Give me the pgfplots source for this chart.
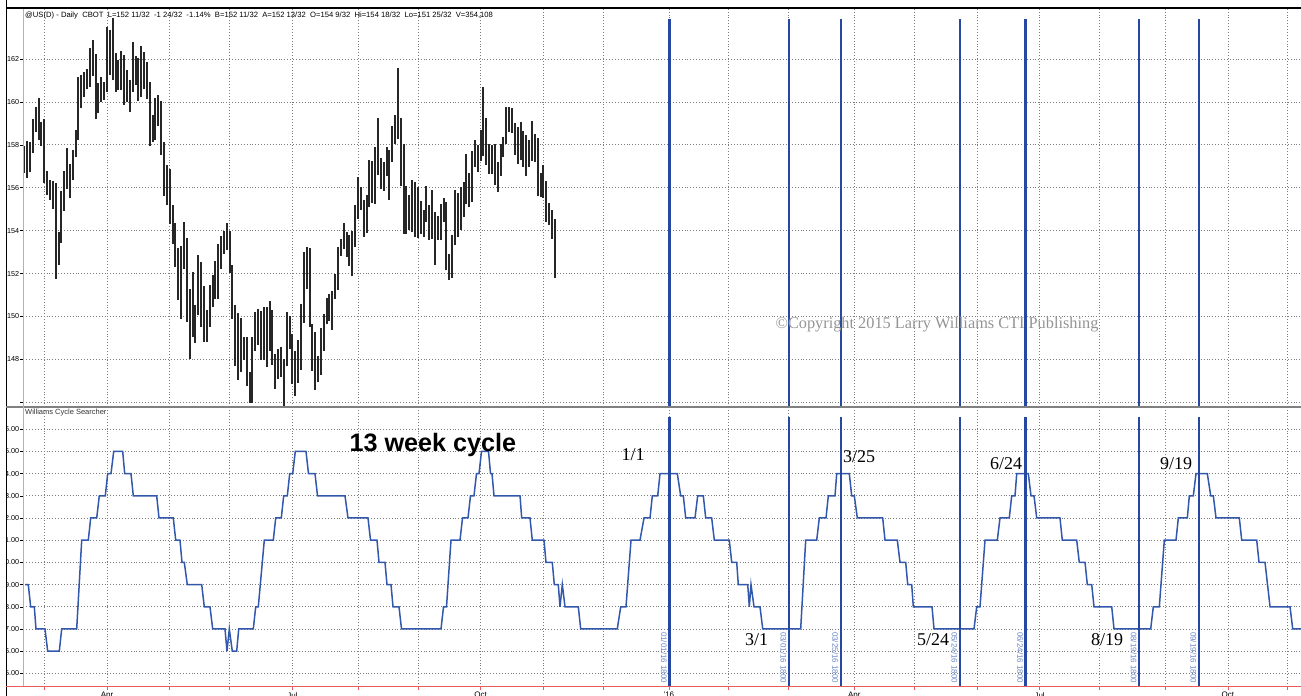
\documentclass[border=0pt]{standalone}
\usepackage{pgfplots}
\pgfplotsset{compat=1.18}
\usepackage{pgfplotstable}
\usepackage{fontspec}
\setmainfont{Liberation Sans}
\newfontfamily\serifA{Liberation Serif}

\definecolor{cyc}{RGB}{50,88,172}
\definecolor{vline}{RGB}{38,72,162}
\definecolor{vtext}{RGB}{105,135,200}
\definecolor{redax}{RGB}{232,92,92}
\definecolor{pinkax}{RGB}{245,150,150}
\definecolor{gridc}{RGB}{125,125,125}

% daily bars: bar number, high, low
\pgfplotstableread{
i h l
1 157.94 156.69
2 158.17 156.46
3 158.11 156.71
4 159.19 157.60
5 159.77 158.61
6 160.16 158.22
7 159.07 157.94
8 159.20 156.23
9 156.79 155.65
10 156.38 155.45
11 156.32 155.03
12 156.23 151.76
13 153.94 152.38
14 155.84 153.44
15 156.77 154.92
16 157.83 155.92
17 157.10 155.50
18 157.75 156.38
19 158.69 157.44
20 161.18 158.22
21 161.25 159.70
22 161.41 160.21
23 161.52 160.58
24 162.50 160.68
25 162.90 161.21
26 162.23 159.18
27 160.86 159.46
28 161.18 160.01
29 160.94 160.09
30 163.50 160.47
31 163.35 161.25
32 163.90 161.00
33 162.26 160.47
34 161.95 160.55
35 162.39 160.55
36 162.19 159.85
37 161.49 160.00
38 161.02 159.54
39 162.80 160.47
40 162.14 160.79
41 162.03 160.05
42 162.60 160.24
43 162.34 160.58
44 161.88 160.12
45 160.94 157.94
46 159.39 158.14
47 160.16 158.22
48 160.32 158.87
49 160.05 157.52
50 158.14 155.62
51 157.05 155.18
52 156.85 154.33
53 155.18 153.36
54 154.36 152.30
55 153.21 150.78
56 153.27 149.89
57 154.41 152.23
58 153.67 149.74
59 151.29 148.03
60 152.07 149.04
61 150.55 148.76
62 152.85 150.05
63 152.54 149.50
64 151.40 148.80
65 150.31 148.80
66 151.45 149.50
67 151.92 150.44
68 152.60 150.80
69 153.36 150.83
70 153.75 152.23
71 153.99 152.93
72 154.36 153.11
73 153.99 152.03
74 152.42 149.89
75 150.55 147.71
76 150.16 147.04
77 149.92 147.39
78 149.04 147.95
79 149.04 146.78
80 147.39 145.97
81 149.04 145.97
82 150.20 148.41
83 150.36 148.65
84 150.25 147.98
85 150.44 147.98
86 150.44 147.63
87 150.72 148.41
88 150.31 147.76
89 148.25 146.62
90 148.49 147.07
91 148.56 147.19
92 148.03 145.77
93 150.20 147.67
94 150.00 148.49
95 149.19 146.86
96 148.41 146.27
97 148.90 146.90
98 150.59 147.51
99 153.00 149.69
100 153.24 151.29
101 153.21 149.53
102 149.63 147.45
103 149.27 146.58
104 148.18 146.93
105 149.47 147.29
106 150.13 148.41
107 150.88 149.63
108 151.03 149.81
109 151.19 149.38
110 152.00 150.83
111 153.24 151.22
112 153.63 152.80
113 154.36 153.16
114 153.94 152.77
115 153.79 152.34
116 153.99 151.87
117 155.18 153.24
118 156.51 154.56
119 156.04 154.95
120 155.42 153.71
121 155.65 153.89
122 157.29 155.11
123 157.26 155.29
124 157.91 155.26
125 159.23 156.58
126 157.37 155.92
127 157.21 155.85
128 157.88 156.54
129 157.75 155.42
130 158.87 157.21
131 159.39 158.03
132 161.56 158.25
133 159.23 156.07
134 158.06 153.86
135 156.07 153.86
136 155.65 154.02
137 156.35 153.94
138 156.27 153.71
139 156.04 153.67
140 155.39 153.86
141 154.95 153.71
142 156.07 154.41
143 155.18 153.58
144 155.91 153.63
145 154.88 152.38
146 154.67 153.55
147 155.23 153.55
148 155.54 154.41
149 155.34 152.15
150 152.93 151.71
151 153.79 151.81
152 155.91 153.32
153 155.76 153.71
154 156.04 154.02
155 156.27 154.64
156 157.57 155.23
157 156.70 155.08
158 157.72 155.34
159 158.22 156.97
160 157.99 156.74
161 158.69 157.26
162 160.68 157.47
163 159.23 157.05
164 158.06 156.66
165 157.99 156.66
166 158.06 156.12
167 157.21 155.82
168 158.06 156.54
169 158.37 157.44
170 159.77 158.06
171 159.77 158.61
172 159.70 158.53
173 159.00 157.52
174 158.81 157.10
175 159.07 157.28
176 158.65 156.97
177 158.45 156.54
178 158.22 156.97
179 159.11 157.25
180 158.50 157.21
181 158.30 155.60
182 156.70 155.57
183 157.05 155.54
184 156.32 154.41
185 155.29 154.25
186 154.95 153.63
187 154.56 151.78
}\prices

\pgfplotsset{
  panel/.style={
    scale only axis, width=1277.7pt,
    xmin=0.65, xmax=448.65,
    xtick={8,30,52,73,95,118,139,161,183,204,227,248,269,292,313,335,357,378,401,423,444},
    axis line style={draw=none},
    grid=major,
    major grid style={gridc, line width=0.7pt, dash pattern=on 0.9pt off 2pt},
    tick align=outside, major tick length=3pt,
    ytick pos=left, xtick pos=bottom,
    ytick style={black, line width=0.5pt},
    tick label style={font=\fontsize{7.2}{8}\selectfont, inner sep=1pt},
    /pgf/number format/assume math mode=true,
  }
}

\begin{document}
\begin{tikzpicture}

% price panel
\begin{axis}[panel, name=top, anchor=south west, at={(23.3pt,289pt)}, height=398pt,
    ymin=145.78, ymax=164.33,
    ytick={146,148,...,162},
    yticklabels={,148,150,152,154,156,158,160,162},
    xticklabel=\empty, xtick style={draw=none}]
  \addplot[draw=none, mark=none,
    error bars/.cd, y dir=plus, y explicit, error mark=none,
    error bar style={draw=black!85, line width=2pt}]
    table[x=i, y=l, y error expr=\thisrow{h}-\thisrow{l}] {\prices};
  \addplot[vline, line width=2.4pt, unbounded coords=jump] coordinates {
    (227.2,145) (227.2,163.86) (nan,nan)
    (269.1,145) (269.1,163.86) (nan,nan)
    (287.3,145) (287.3,163.86) (nan,nan)
    (329.1,145) (329.1,163.86) (nan,nan)
    (352.1,145) (352.1,163.86) (nan,nan)
    (391.9,145) (391.9,163.86) (nan,nan)
    (412.9,145) (412.9,163.86)
  };
\end{axis}

% cycle panel
\begin{axis}[panel, name=bot, anchor=south west, at={(23.3pt,9.3pt)}, height=279.7pt,
    ymin=4.40, ymax=17.0,
    ytick={5,6,...,16},
    yticklabels={5.00,6.00,7.00,8.00,9.00,10.00,11.00,12.00,13.00,14.00,15.00,16.00},
    xticklabels={,Apr,,,Jul,,,Oct,,,'16,,,Apr,,,Jul,,,Oct,},
    xtick style={redax, line width=0.6pt},
    xticklabel style={font=\fontsize{8}{9}\selectfont, inner sep=0pt, yshift=-2.5pt}]
  \addplot[cyc, line width=1.5pt] coordinates {
    (1.25,9) (2.40,9) (3.24,8) (4.51,8) (5.10,7) (8.26,7) (9.20,6) (13.27,6)
    (14.11,7) (19.37,7) (21.13,11) (23.44,11) (24.28,12) (26.39,12) (27.30,13)
    (29.40,13) (30.24,14) (31.40,14) (32.35,15) (35.50,15) (36.20,14) (38.41,14)
    (39.22,13) (47.42,13) (48.23,12) (53.24,12) (54.09,11) (55.59,11) (56.29,10)
    (57.10,10) (58.15,9) (63.20,9) (64.11,8) (66.11,8) (67.06,7) (71.37,7)
    (72.07,6) (72.88,7) (73.93,6) (75.47,6) (76.18,7) (81.29,7) (82.14,8)
    (83.05,8) (85.15,11) (88.31,11) (89.15,12) (91.11,12) (91.95,13) (93.22,13)
    (94.06,14) (95.11,14) (96.02,15) (99.77,15) (100.65,14) (102.93,14)
    (103.81,13) (113.45,13) (114.50,12) (121.51,12) (122.39,11) (124.67,11)
    (125.37,10) (127.47,10) (128.17,9) (129.58,9) (130.28,8) (132.38,8)
    (133.26,7) (147.11,7) (147.99,8) (149.04,8) (150.61,11) (153.77,11)
    (154.65,12) (156.57,12) (157.45,13) (158.68,13) (159.55,14) (160.43,14)
    (161.31,15) (163.77,15) (164.47,14) (164.99,14) (165.69,13) (174.81,13)
    (175.40,12) (178.31,12) (179.12,11) (183.22,11) (183.92,10) (186.13,10)
    (186.83,9) (188.23,9) (188.83,8) (189.64,9) (190.59,8) (195.25,8)
    (196.09,7) (208.92,7) (210.12,8) (211.97,8) (213.73,11) (216.88,11)
    (218.29,12) (220.39,12) (221.20,13) (223.09,13) (223.90,14) (229.96,14)
    (231.15,13) (232.07,13) (232.91,12) (236.17,12) (237.11,13) (239.08,13)
    (239.92,12) (242.02,12) (242.94,11) (248.19,11) (249.04,10) (250.79,10)
    (251.35,9) (254.65,9) (255.21,8) (255.80,9) (256.86,8) (258.96,8)
    (259.91,7) (273.22,7) (274.98,11) (278.84,11) (279.75,12) (282.10,12)
    (282.91,13) (285.26,13) (285.85,14) (290.27,14) (291.11,13) (292.02,13)
    (293.08,12) (301.98,12) (302.79,11) (307.10,11) (308.05,10) (310.05,10)
    (310.75,9) (312.15,9) (312.71,8) (319.27,8) (319.97,7) (333.99,7)
    (334.94,8) (336.10,8) (337.85,11) (342.16,11) (343.11,12) (346.37,12)
    (347.21,13) (348.37,13) (348.97,14) (353.03,14) (353.98,13) (355.03,13)
    (355.98,12) (364.14,12) (364.95,11) (370.00,11) (370.91,10) (372.92,10)
    (373.72,9) (375.26,9) (376.07,8) (382.28,8) (383.08,7) (395.95,7)
    (396.86,8) (398.97,8) (400.72,11) (404.82,11) (405.63,12) (408.79,12)
    (409.49,13) (410.89,13) (411.83,14) (415.80,14) (416.99,13) (417.90,13)
    (418.85,12) (427.02,12) (427.86,11) (433.12,11) (433.93,10) (436.03,10)
    (437.79,8) (444.80,8) (445.74,7) (449,7)
  };
  \addplot[vline, line width=2.4pt, unbounded coords=jump] coordinates {
    (227.2,4) (227.2,16.57) (nan,nan)
    (269.1,4) (269.1,16.57) (nan,nan)
    (287.3,4) (287.3,16.57) (nan,nan)
    (329.1,4) (329.1,16.57) (nan,nan)
    (352.1,4) (352.1,16.57) (nan,nan)
    (391.9,4) (391.9,16.57) (nan,nan)
    (412.9,4) (412.9,16.57)
  };
  \begin{scope}[every node/.style={rotate=-90, font=\fontsize{8}{9}\selectfont, text=vtext, inner sep=0pt}]
    \node at (axis cs:225.27,5.71) {01/01/16 1800};
    \node at (axis cs:267.17,5.71) {03/01/16 1800};
    \node at (axis cs:285.37,5.71) {03/25/16 1800};
    \node at (axis cs:327.17,5.71) {05/24/16 1800};
    \node at (axis cs:350.17,5.71) {06/24/16 1800};
    \node at (axis cs:389.97,5.71) {08/19/16 1800};
    \node at (axis cs:410.97,5.71) {09/19/16 1800};
  \end{scope}
\end{axis}

% white margin on the left, then the frame
\fill[white] (-40pt,-20pt) rectangle (6pt,716pt);
\draw[black, line width=1.4pt] (6.7pt,0pt) -- (6.7pt,696pt);
\draw[black, line width=2pt] (6pt,687.5pt) -- (1301pt,687.5pt);
\draw[black!50, line width=1.5pt] (6pt,289pt) -- (1301pt,289pt);
\draw[pinkax, line width=1pt] (23.3pt,9.3pt) -- (23.3pt,687pt);
\draw[redax, line width=1pt] (6pt,9.3pt) -- (1301pt,9.3pt);

% texts
\node[anchor=west, inner sep=0pt, font=\fontsize{7.65}{9}\selectfont] at (25pt,680.5pt)
  {@US(D) - Daily\ \ CBOT\ \ L=152 11/32\ \ -1 24/32\ \ -1.14\%\ \ B=152 11/32\ \ A=152 13/32\ \ O=154 9/32\ \ Hi=154 18/32\ \ Lo=151 25/32\ \ V=354,108};
\node[anchor=west, inner sep=0pt, font=\fontsize{7.5}{9}\selectfont, text=black!80] at (25pt,283pt) {Williams Cycle Searcher};
\node[anchor=base west, inner sep=0pt, font=\fontsize{25.2}{28}\selectfont\bfseries] at (349.3pt,244.3pt) {13 week cycle};
\node[font=\serifA\fontsize{16.3}{18}\selectfont, text=black!42] at (937pt,371pt) {©Copyright 2015 Larry Williams CTI Publishing};
\begin{scope}[every node/.style={font=\serifA\fontsize{18}{20}\selectfont, inner sep=0pt}]
  \node at (633pt,241pt) {1/1};
  \node at (859pt,239pt) {3/25};
  \node at (1006pt,232pt) {6/24};
  \node at (1176pt,232pt) {9/19};
  \node at (756.5pt,56pt) {3/1};
  \node at (933pt,56pt) {5/24};
  \node at (1107pt,56pt) {8/19};
\end{scope}

\pgfresetboundingbox
\useasboundingbox (0pt,0pt) rectangle (1301pt,696pt);
\end{tikzpicture}
\end{document}
